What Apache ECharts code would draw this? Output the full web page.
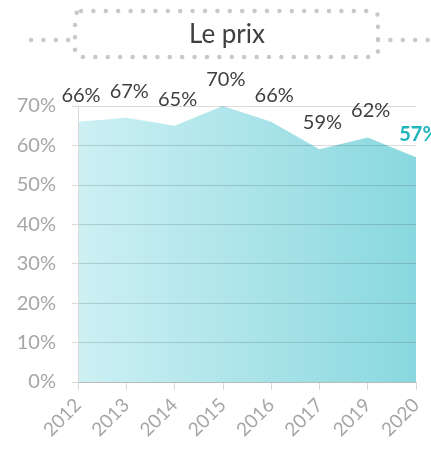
<!DOCTYPE html>
<html>
<head>
<meta charset="utf-8">
<style>
  html, body { margin: 0; padding: 0; background: #ffffff; }
  #chart { width: 431px; height: 450px; }
</style>
<script src="https://cdn.jsdelivr.net/npm/echarts@6/dist/echarts.min.js"></script>
</head>
<body>
<div id="chart"></div>
<script>
// Share of respondents citing price, by survey year
const years = ['2012', '2013', '2014', '2015', '2016', '2017', '2019', '2020'];
const shares = [66, 67, 65, 70, 66, 59, 62, 57];
const yTicks = { min: 0, max: 70, interval: 10 };
const title = 'Le prix';

const FONT = 'Lato';
const lastIdx = shares.length - 1;
const DOTS = { stroke: '#c8c8c8', lineWidth: 4.5, lineDash: [0, 12.4], lineCap: 'round' };

const chart = echarts.init(document.getElementById('chart'), null, { renderer: 'canvas' });

chart.setOption({
  animation: false,
  backgroundColor: '#ffffff',
  grid: { left: 78, right: 15, top: 106, bottom: 68, containLabel: false },
  graphic: [
    {
      type: 'rect',
      shape: { x: 75, y: 11, width: 303, height: 46, r: 6 },
      style: Object.assign({ fill: 'none' }, DOTS),
      z: 10
    },
    {
      type: 'line',
      shape: { x1: 31, y1: 40, x2: 75, y2: 40 },
      style: DOTS,
      z: 10
    },
    {
      type: 'line',
      shape: { x1: 378, y1: 40, x2: 440, y2: 40 },
      style: DOTS,
      z: 10
    },
    {
      type: 'text',
      x: 227, y: 35,
      style: {
        text: title, fontFamily: FONT, fontSize: 26, fill: '#404040',
        align: 'center', verticalAlign: 'middle'
      },
      z: 11
    }
  ],
  xAxis: {
    type: 'category',
    data: years,
    boundaryGap: false,
    axisLine: { show: true, lineStyle: { color: '#d9d9d9', width: 1 } },
    axisTick: { show: true, alignWithLabel: true, length: 8, lineStyle: { color: '#d9d9d9' } },
    axisLabel: {
      rotate: 45, margin: 20, color: '#a6a6a6', fontFamily: FONT, fontSize: 19
    },
    splitLine: { show: false }
  },
  yAxis: {
    type: 'value',
    min: yTicks.min, max: yTicks.max, interval: yTicks.interval,
    z: 5,
    axisLine: { show: true, lineStyle: { color: '#d9d9d9', width: 1 } },
    axisTick: { show: true, length: 6, lineStyle: { color: '#d9d9d9' } },
    axisLabel: {
      formatter: '{value}%', margin: 22, color: '#a6a6a6', fontFamily: FONT, fontSize: 20
    },
    splitLine: { show: true, lineStyle: { color: 'rgba(0,0,0,0.14)', width: 1 } }
  },
  series: [{
    type: 'line',
    data: shares.map((v, i) => ({
      value: v,
      label: i === lastIdx
        ? { color: '#1fb5bd', fontWeight: 'bold', distance: 12 }
        : {}
    })),
    symbol: 'circle',
    symbolSize: 1,
    showSymbol: true,
    itemStyle: { color: 'rgba(0,0,0,0)', borderWidth: 0 },
    lineStyle: { width: 0 },
    z: 2,
    areaStyle: {
      opacity: 1,
      color: new echarts.graphic.LinearGradient(0, 0, 1, 0, [
        { offset: 0, color: '#cdf0f3' },
        { offset: 1, color: '#89d8df' }
      ])
    },
    label: {
      show: true,
      position: 'top',
      distance: 16,
      offset: [3, 0],
      formatter: '{c}%',
      color: '#404040',
      fontFamily: FONT,
      fontSize: 20
    }
  }]
});
</script>
</body>
</html>
